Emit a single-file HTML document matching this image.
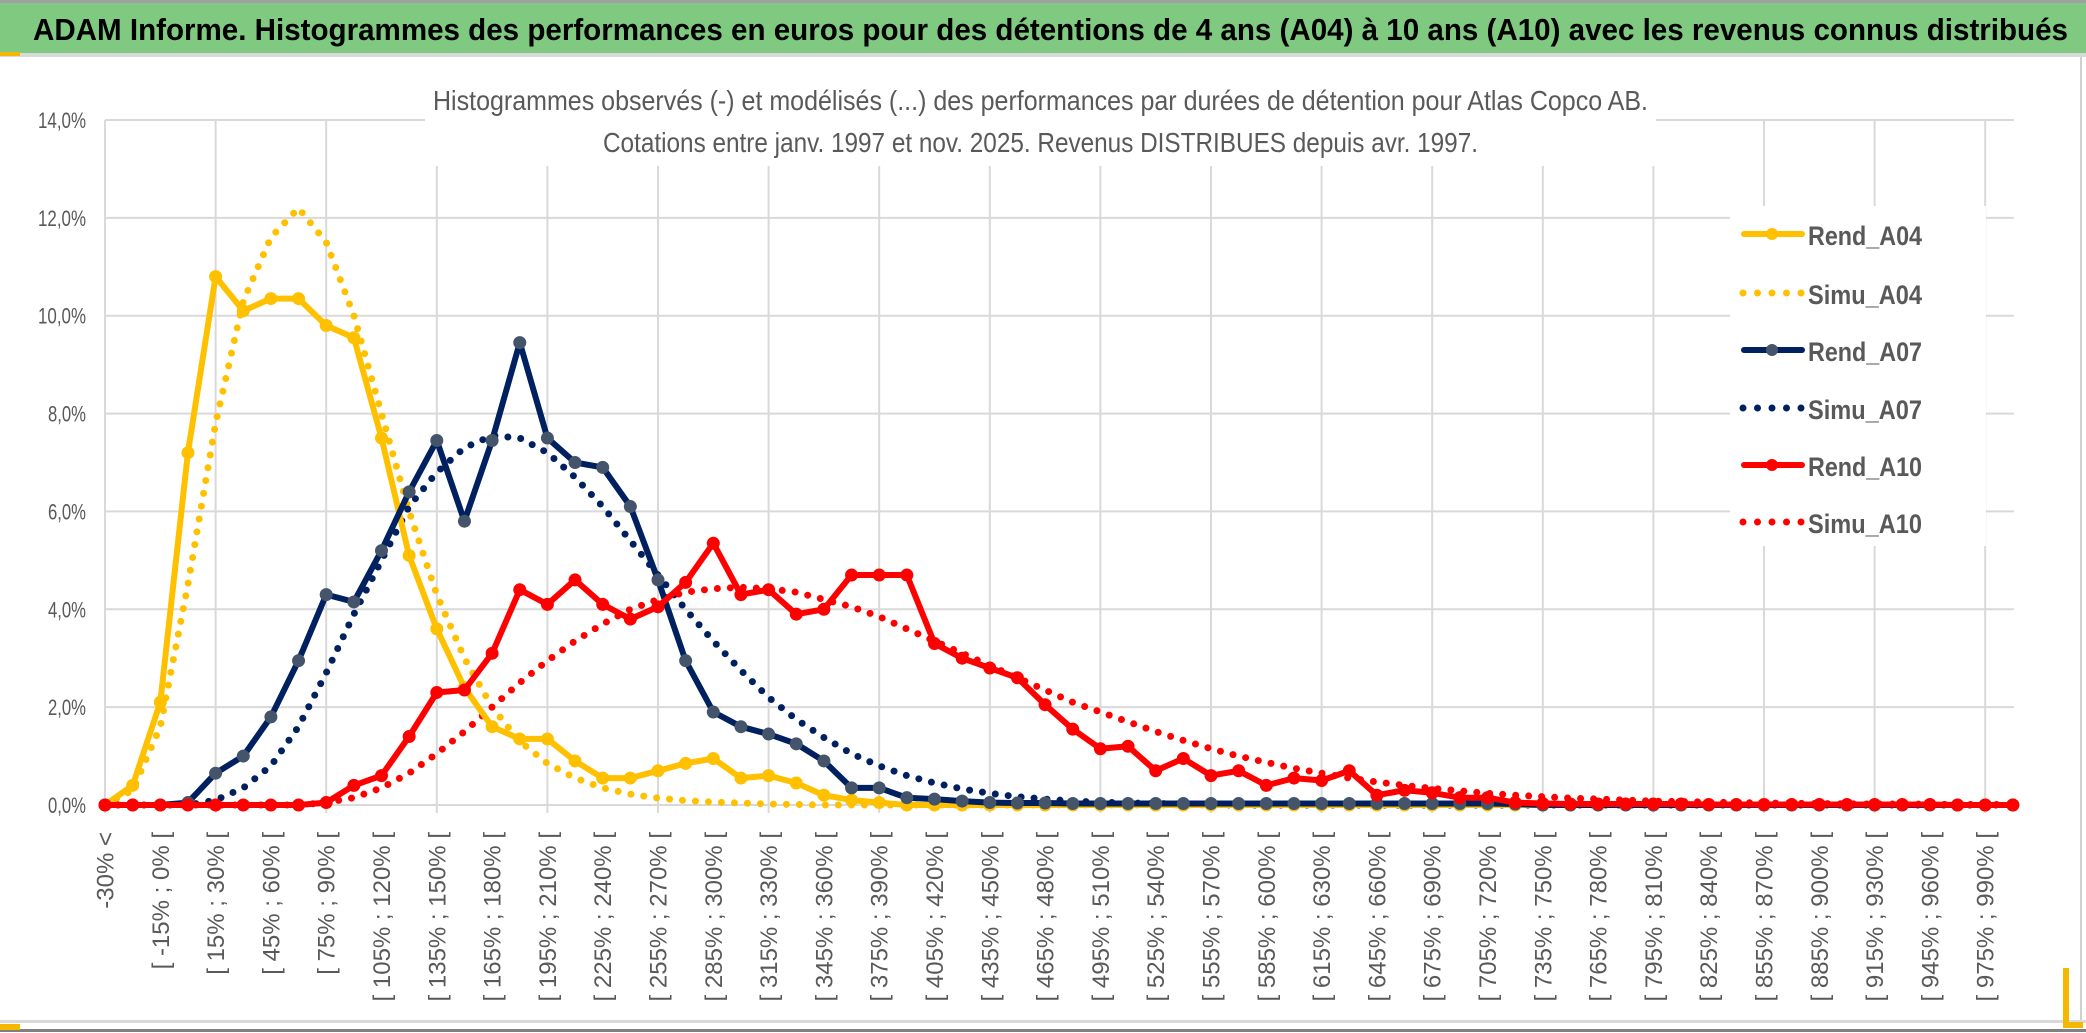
<!DOCTYPE html>
<html><head><meta charset="utf-8"><style>
html,body{margin:0;padding:0;background:#fff;}
svg{display:block;}
text{font-family:"Liberation Sans Narrow","Liberation Sans",sans-serif;}
</style></head><body>
<svg id="chart" width="2086" height="1033" viewBox="0 0 2086 1033" xmlns="http://www.w3.org/2000/svg">
<rect x="0" y="0" width="2086" height="1033" fill="#fff"/>
<rect x="0" y="0" width="2086" height="3" fill="#a0a0a0"/>
<rect x="0" y="3" width="2086" height="50" fill="#80c980"/>
<rect x="0" y="53" width="2086" height="4" fill="#d9d9d9"/>
<rect x="0" y="52" width="20" height="4" fill="#f5b800"/>
<text x="33" y="40" font-size="31" font-weight="bold" fill="#000" textLength="2035" lengthAdjust="spacingAndGlyphs">ADAM Informe. Histogrammes des performances en euros pour des détentions de 4 ans (A04) à 10 ans (A10) avec les revenus connus distribués</text>
<rect x="2080" y="57" width="2" height="966" fill="#d0d0d0"/>
<rect x="0" y="1020" width="2086" height="3" fill="#d9d9d9"/>
<rect x="0" y="1029" width="2086" height="3" fill="#808080"/>
<rect x="0" y="1024" width="20" height="6" fill="#f5b800"/>
<rect x="2063" y="968" width="6" height="60" fill="#f5b800"/>
<rect x="2063" y="1022" width="20" height="6" fill="#f5b800"/>
<g id="grid"></g>
<g id="xlabels"></g>
<g id="ylabels"></g>
<g id="series"></g>
<rect x="425" y="60" width="1231" height="106" fill="#fff"/>
<text x="433" y="110" font-size="28" fill="#595959" textLength="1215" lengthAdjust="spacingAndGlyphs">Histogrammes observés (-) et modélisés (...) des performances par durées de détention pour Atlas Copco AB.</text>
<text x="603" y="152" font-size="28" fill="#595959" textLength="875" lengthAdjust="spacingAndGlyphs">Cotations entre janv. 1997 et nov. 2025. Revenus DISTRIBUES depuis avr. 1997.</text>
<g id="legend"></g>
</svg>
<script>
const categoryCount = 70;
const yTicks = [0, 2, 4, 6, 8, 10, 12, 14];
const yTickLabels = ["0,0%","2,0%","4,0%","6,0%","8,0%","10,0%","12,0%","14,0%"];
const rendA04 = [0,0.4,2.1,7.2,10.8,10.1,10.35,10.35,9.8,9.55,7.5,5.1,3.6,2.4,1.6,1.35,1.35,0.9,0.55,0.55,0.7,0.85,0.95,0.55,0.6,0.45,0.2,0.1,0.05,0,0,0,0,0,0,0,0,0,0,0,0,0,0,0,0,0,0,0,0,0,0,0,0,0,0,0,0,0,0,0,0,0,0,0,0,0,0,0,0,0];
const simuA04 = [0,0.3,1.6,4.5,7.8,10.3,11.6,12.2,11.5,10.0,8.0,6.0,4.3,3.0,2.0,1.3,0.85,0.55,0.35,0.22,0.14,0.09,0.06,0.04,0.02,0.01,0,0,0,0,0,0,0,0,0,0,0,0,0,0,0,0,0,0,0,0,0,0,0,0,0,0,0,0,0,0,0,0,0,0,0,0,0,0,0,0,0,0,0,0];
const rendA07 = [0,0,0,0.05,0.65,1.0,1.8,2.95,4.3,4.15,5.2,6.4,7.45,5.8,7.45,9.45,7.5,7.0,6.9,6.1,4.6,2.95,1.9,1.6,1.45,1.25,0.9,0.35,0.35,0.15,0.12,0.08,0.05,0.04,0.04,0.03,0.03,0.03,0.03,0.03,0.03,0.03,0.03,0.03,0.03,0.03,0.03,0.03,0.03,0.03,0.03,0.02,0,0,0,0,0,0,0,0,0,0,0,0,0,0,0,0,0,0];
const simuA07 = [0,0,0,0,0.1,0.35,0.8,1.6,2.7,3.9,5.0,6.1,6.8,7.3,7.55,7.5,7.2,6.7,6.1,5.4,4.7,4.0,3.35,2.75,2.2,1.75,1.38,1.05,0.8,0.6,0.45,0.33,0.24,0.17,0.12,0.08,0.06,0.04,0.03,0.02,0.01,0,0,0,0,0,0,0,0,0,0,0,0,0,0,0,0,0,0,0,0,0,0,0,0,0,0,0,0,0];
const rendA10 = [0,0,0,0,0,0,0,0,0.05,0.4,0.6,1.4,2.3,2.35,3.1,4.4,4.1,4.6,4.1,3.8,4.05,4.55,5.35,4.3,4.4,3.9,4.0,4.7,4.7,4.7,3.3,3.0,2.8,2.6,2.05,1.55,1.15,1.2,0.7,0.95,0.6,0.7,0.4,0.55,0.5,0.7,0.2,0.3,0.25,0.15,0.15,0.05,0.03,0.02,0.02,0.02,0.02,0.02,0.01,0.01,0.01,0.01,0.01,0.01,0.01,0.01,0.01,0,0,0];
const simuA10 = [0,0,0,0,0,0,0,0,0.05,0.15,0.35,0.65,1.05,1.5,2.0,2.5,2.95,3.35,3.7,4.0,4.2,4.35,4.42,4.45,4.42,4.35,4.2,4.05,3.85,3.6,3.35,3.1,2.85,2.6,2.35,2.1,1.9,1.7,1.5,1.32,1.15,1.0,0.87,0.75,0.65,0.55,0.47,0.4,0.34,0.29,0.24,0.2,0.17,0.14,0.12,0.1,0.08,0.07,0.06,0.05,0.04,0.035,0.03,0.025,0.02,0.02,0.015,0.01,0.01,0.01];
const seriesNames = ["Rend_A04","Simu_A04","Rend_A07","Simu_A07","Rend_A10","Simu_A10"];

const NS = "http://www.w3.org/2000/svg";
const X0 = 105, DX = 27.65, Y0 = 805, YTOP = 120, YMAX = 14;
function xScale(i){ return X0 + i*DX; }
function yScale(v){ return Y0 - v/YMAX*(Y0-YTOP); }
function mk(tag, attrs, parent){ const e = document.createElementNS(NS, tag); for (const k in attrs) e.setAttribute(k, attrs[k]); parent.appendChild(e); return e; }

const grid = document.getElementById('grid');
yTicks.forEach((t) => {
  const l = mk('line', {x1: X0, x2: xScale(categoryCount-1)+1, y1: yScale(t), y2: yScale(t), stroke: '#d9d9d9', 'stroke-width': 2}, grid);
  
  
});
for (let i = 0; i < categoryCount; i += 4) {
  const l = mk('line', {x1: xScale(i), x2: xScale(i), y1: YTOP, y2: Y0 + 8, stroke: '#d9d9d9', 'stroke-width': 2}, grid);
  
  
}

const yl = document.getElementById('ylabels');
yTicks.forEach((t, k) => {
  const lab = yTickLabels[k];
  const w = lab.length === 5 ? 48 : 38;
  const tx = mk('text', {x: 86 - w, y: yScale(t) + 8, 'font-size': 22, fill: '#595959', textLength: w, lengthAdjust: 'spacingAndGlyphs'}, yl);
  tx.textContent = lab;
  
  
});

const xl = document.getElementById('xlabels');
for (let i = 0; i < categoryCount - 1; i += 2) {
  const lab = i === 0 ? "-30% <" : "[ " + (15*i-45) + "% ; " + (15*i-30) + "% [";
  const tx = mk('text', {transform: 'translate(' + (xScale(i)+8.5) + ',832) rotate(-90)', 'font-size': 24, fill: '#595959', 'text-anchor': 'end', style: 'font-family:"Liberation Sans",sans-serif'}, xl);
  tx.textContent = lab;
  
  
}

const sg = document.getElementById('series');
function pts(arr){ return arr.map((v,i) => xScale(i).toFixed(1) + ',' + yScale(v).toFixed(1)).join(' '); }
function drawDotted(arr, color, name){
  const p = mk('polyline', {points: pts(arr), fill: 'none', stroke: color, 'stroke-width': 7, 'stroke-linecap': 'round', 'stroke-dasharray': '0 13'}, sg);
  
  
}
function drawSolid(arr, color, mcolor, name){
  const p = mk('polyline', {points: pts(arr), fill: 'none', stroke: color, 'stroke-width': 6, 'stroke-linejoin': 'round'}, sg);
  
  
  arr.forEach((v,i) => {
    const c = mk('circle', {cx: xScale(i), cy: yScale(v), r: 6, fill: mcolor, stroke: mcolor}, sg);
    
    
  });
}
drawDotted(simuA04, '#ffc000', 'simu-a04-line');
drawDotted(simuA07, '#002060', 'simu-a07-line');
drawDotted(simuA10, '#ff0000', 'simu-a10-line');
drawSolid(rendA04, '#ffc000', '#ffc000', 'rend-a04-line');
drawSolid(rendA07, '#002060', '#44546a', 'rend-a07-line');
drawSolid(rendA10, '#ff0000', '#ff0000', 'rend-a10-line');

const lg = document.getElementById('legend');
const bg = mk('rect', {x: 1730, y: 206, width: 256, height: 340, fill: '#fff'}, lg);


const legColors = ['#ffc000','#ffc000','#002060','#002060','#ff0000','#ff0000'];
const legMarker = ['#ffc000',null,'#44546a',null,'#ff0000',null];
const legY = [234, 293, 350, 408, 465, 522];
seriesNames.forEach((n, k) => {
  const g = mk('g', {}, lg);
  
  
  const y = legY[k];
  if (legMarker[k]) {
    mk('line', {x1: 1744, x2: 1802, y1: y, y2: y, stroke: legColors[k], 'stroke-width': 6, 'stroke-linecap': 'round'}, g);
    mk('circle', {cx: 1772, cy: y, r: 6, fill: legMarker[k]}, g);
  } else {
    mk('line', {x1: 1743, x2: 1802, y1: y, y2: y, stroke: legColors[k], 'stroke-width': 7, 'stroke-linecap': 'round', 'stroke-dasharray': '0 14.5'}, g);
  }
  const t = mk('text', {x: 1808, y: y + 11, 'font-size': 27, 'font-weight': 'bold', fill: '#595959', textLength: 114, lengthAdjust: 'spacingAndGlyphs'}, g);
  t.textContent = n;
});
</script>
</body></html>
